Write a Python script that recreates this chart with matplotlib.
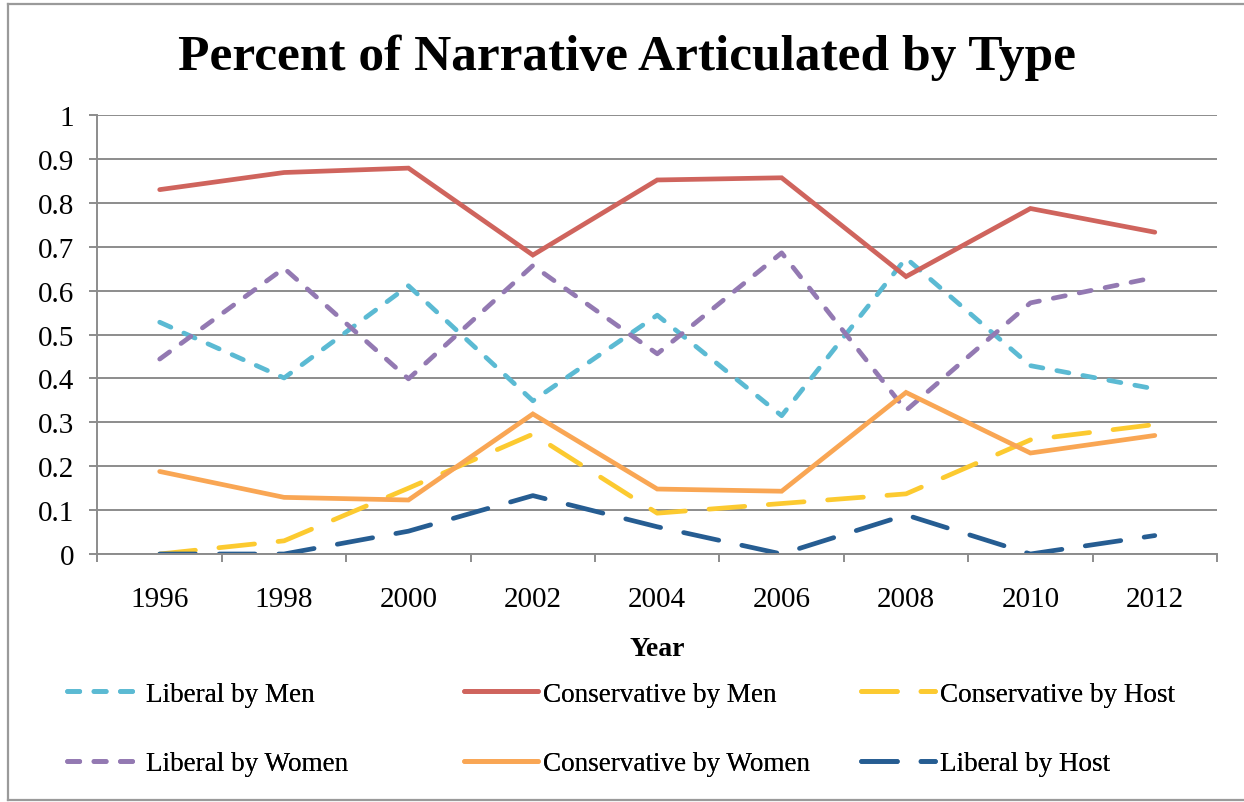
import matplotlib
matplotlib.use("Agg")
import matplotlib.pyplot as plt
from matplotlib.lines import Line2D
import numpy as np

years = ["1996", "1998", "2000", "2002", "2004", "2006", "2008", "2010", "2012"]

liberal_men = [0.528, 0.401, 0.611, 0.349, 0.544, 0.315, 0.674, 0.429, 0.376]
conservative_men = [0.830, 0.869, 0.879, 0.681, 0.852, 0.857, 0.632, 0.787, 0.733]
conservative_host = [0.0, 0.030, 0.150, 0.273, 0.093, 0.115, 0.137, 0.260, 0.295]
liberal_women = [0.444, 0.651, 0.399, 0.657, 0.456, 0.686, 0.327, 0.572, 0.630]
conservative_women = [0.188, 0.129, 0.123, 0.319, 0.148, 0.143, 0.368, 0.230, 0.270]
liberal_host = [0.0, 0.0, 0.052, 0.133, 0.062, 0.0, 0.089, 0.0, 0.042]

plt.rcParams['font.family'] = ['Liberation Serif', 'DejaVu Serif']

W, H = 1244, 803
fig = plt.figure(figsize=(W / 100, H / 100), dpi=100)
ax = fig.add_axes([97.5 / W, (H - 555) / H, (1217 - 97.5) / W, (555 - 116) / H])

grid_c = '#8c8c8c'
lw = 3.4
short_dash = (0, (2.6, 3.0))
long_dash = (0, (7.6, 5.0))

x = np.arange(len(years))
series = [
    ("Liberal by Men", liberal_men, '#5bbad3', short_dash),
    ("Conservative by Men", conservative_men, '#cf645d', '-'),
    ("Conservative by Host", conservative_host, '#fcca30', long_dash),
    ("Liberal by Women", liberal_women, '#9379b2', short_dash),
    ("Conservative by Women", conservative_women, '#f9a654', '-'),
    ("Liberal by Host", liberal_host, '#265d92', long_dash),
]
handles = []
for name, vals, col, ls in series:
    ln, = ax.plot(x, vals, color=col, lw=lw, linestyle=ls, label=name,
                  solid_capstyle='round', dash_capstyle='round',
                  solid_joinstyle='miter')
    handles.append(ln)

ax.set_xlim(-0.5, len(years) - 0.5)
ax.set_ylim(0, 1)
ax.set_yticks(np.arange(0, 1.01, 0.1))
ax.set_yticklabels(['0', '0.1', '0.2', '0.3', '0.4', '0.5', '0.6', '0.7', '0.8', '0.9', '1'])
ax.set_xticks(x)
ax.set_xticklabels(years)
ax.set_xticks(np.arange(-0.5, len(years), 1), minor=True)

ax.yaxis.grid(True, color=grid_c, lw=1.4)
ax.set_axisbelow(True)
for s in ['top', 'right']:
    ax.spines[s].set_visible(False)
for s in ['left', 'bottom']:
    ax.spines[s].set_color(grid_c)
    ax.spines[s].set_linewidth(1.4)

ax.tick_params(axis='y', direction='out', length=6, width=1.4, color=grid_c,
               labelsize=21, pad=11)
ax.tick_params(axis='x', which='major', length=0, labelsize=21, pad=23)
ax.tick_params(axis='x', which='minor', direction='out', length=6, width=1.4, color=grid_c)

fig.text(627 / W, 1 - 58 / H, "Percent of Narrative Articulated by Type",
         ha='center', va='center', fontsize=37, fontweight='bold')
fig.text(657 / W, 1 - 650 / H, "Year", ha='center', va='center',
         fontsize=20, fontweight='bold')

# legend: three columns, two rows
cols_x = [67, 464, 861]
for i, cx in enumerate(cols_x):
    hh = [handles[i], handles[i + 3]]
    leg = fig.legend(hh, [h.get_label() for h in hh], loc='center left',
                     bbox_to_anchor=(cx / W, 1 - 730 / H), frameon=False,
                     fontsize=19.5, handlelength=2.75, handletextpad=0.15,
                     labelspacing=1.65, borderpad=0, borderaxespad=0)
    fig.add_artist(leg)

# chart border
border_kw = dict(color='#9a9a9a', lw=1.6, transform=fig.transFigure)
fig.add_artist(Line2D([8 / W, 8 / W], [1 - 5 / H, 1 - 801 / H], **border_kw))
fig.add_artist(Line2D([8 / W, 1], [1 - 5 / H, 1 - 5 / H], **border_kw))
fig.add_artist(Line2D([8 / W, 1], [1 - 801 / H, 1 - 801 / H], **border_kw))

fig.savefig("out.png", dpi=100)
